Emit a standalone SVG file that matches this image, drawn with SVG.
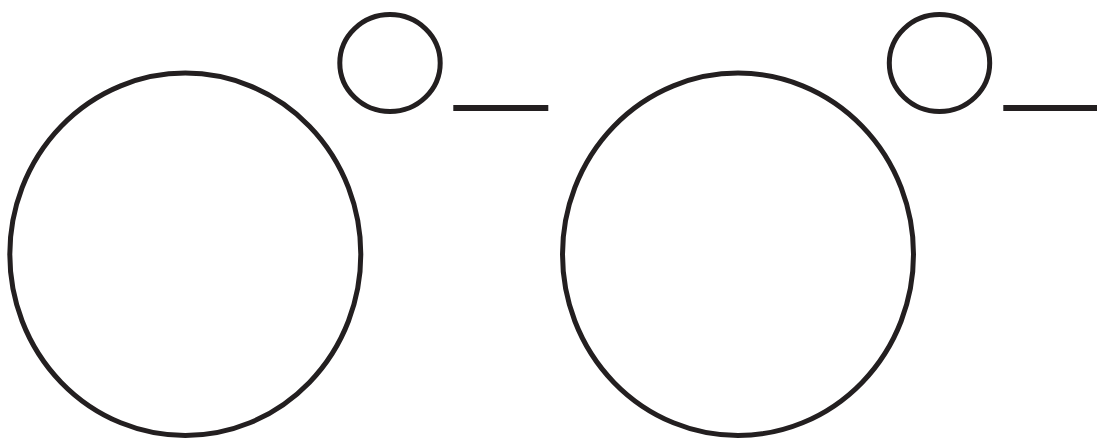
<svg xmlns="http://www.w3.org/2000/svg" width="1097" height="439" viewBox="0 0 1097 439">
<style>
.s{fill:none;stroke:#231f20;stroke-width:5}
.l{stroke:#231f20;stroke-width:6}
</style>
<rect width="1097" height="439" fill="#fff"/>
<g id="big1"><ellipse class="s" cx="185.3" cy="254.3" rx="175.5" ry="181.2"/></g>
<g id="small1"><ellipse class="s" cx="390" cy="63" rx="50.2" ry="48.5"/></g>
<g id="big2"><ellipse class="s" cx="738" cy="254.3" rx="175.5" ry="181.2"/></g>
<g id="small2"><ellipse class="s" cx="939.5" cy="63" rx="50.2" ry="48.5"/></g>
<g id="connectors">
<line class="l" x1="453.3" y1="108" x2="548.3" y2="108"/>
<line class="l" x1="1003.3" y1="108" x2="1097" y2="108"/>
</g>
</svg>
